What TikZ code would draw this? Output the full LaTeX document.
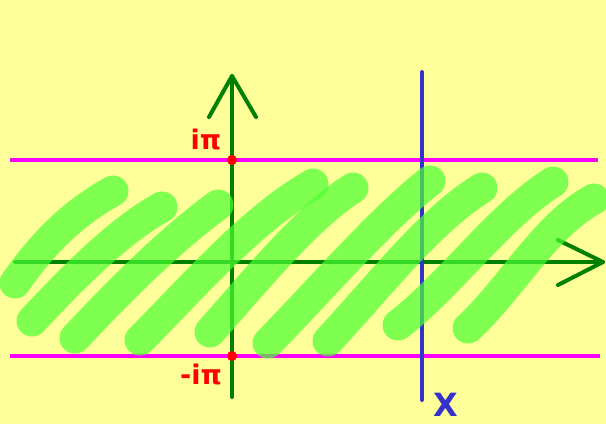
\documentclass[tikz,border=0pt]{standalone}
\usepackage{fontspec}
\setmainfont{DejaVu Sans}
\definecolor{bgy}{RGB}{255,255,153}
\definecolor{axg}{RGB}{0,128,0}
\definecolor{mag}{RGB}{255,0,255}
\definecolor{xbl}{RGB}{51,51,204}
\definecolor{hgr}{RGB}{74,255,49}
\definecolor{lred}{RGB}{255,0,0}
\begin{document}
\begin{tikzpicture}[x=1pt,y=-1pt,
  axis/.style={draw=axg,line width=4,line cap=round,line join=round},
  band/.style={draw=mag,line width=4},
  xline/.style={draw=xbl,line width=4,line cap=round},
  hatch/.style={draw=hgr,draw opacity=0.7,line width=31,line cap=round},
  lbl/.style={text=lred,font=\bfseries\fontsize{27}{27}\selectfont,inner sep=0},
  dot/.style={circle,fill=lred,inner sep=0,minimum size=10}]
\fill[bgy] (0,0) rectangle (606,424);
\useasboundingbox (0,0) rectangle (606,424);
% coordinates
\coordinate (hL) at (15,262);
\coordinate (hR) at (603,262);
\coordinate (hA1) at (558,240);
\coordinate (hA2) at (558,285);
\coordinate (vB) at (232,397);
\coordinate (vT) at (232,76);
\coordinate (vA1) at (209,117);
\coordinate (vA2) at (256,117);
\coordinate (m1L) at (10,160);
\coordinate (m1R) at (598,160);
\coordinate (m2L) at (10,356);
\coordinate (m2R) at (600,356);
\coordinate (bT) at (422,72);
\coordinate (bB) at (422,400);
% magenta lines
\draw[band] (m1L) -- (m1R);
\draw[band] (m2L) -- (m2R);
% axes
\draw[axis] (hL) -- (hR);
\draw[axis] (hA1) -- (hR) -- (hA2);
\draw[axis] (vB) -- (vT);
\draw[axis] (vA1) -- (vT) -- (vA2);
% blue line
\draw[xline] (bT) -- (bB);
% hatching strokes
\draw[hatch] (15,283) .. controls (45,240) and (75,212) .. (113,191);
\draw[hatch] (32,321) .. controls (75,275) and (120,230) .. (162,207);
\draw[hatch] (75,338) .. controls (120,290) and (170,240) .. (218,205);
\draw[hatch] (140,340) .. controls (190,290) and (250,220) .. (313,184);
\draw[hatch] (210,332) .. controls (260,275) and (310,215) .. (353,188);
\draw[hatch] (268,343) .. controls (320,290) and (380,220) .. (430,181);
\draw[hatch] (328,341) .. controls (380,285) and (430,220) .. (482,188);
\draw[hatch] (398,325) .. controls (450,285) and (500,215) .. (553,182);
\draw[hatch] (468,328) .. controls (510,290) and (545,225) .. (594,199);
% dots
\node[dot] (d1) at (232,160) {};
\node[dot] (d2) at (232,356) {};
% labels
\node[lbl] (ipi) at (206,139) {iπ};
\node[lbl] (mipi) at (201,374) {-iπ};
\node[text=xbl,font=\bfseries\fontsize{32}{32}\selectfont,inner sep=0] (X) at (446,405) {X};
\end{tikzpicture}
\end{document}
